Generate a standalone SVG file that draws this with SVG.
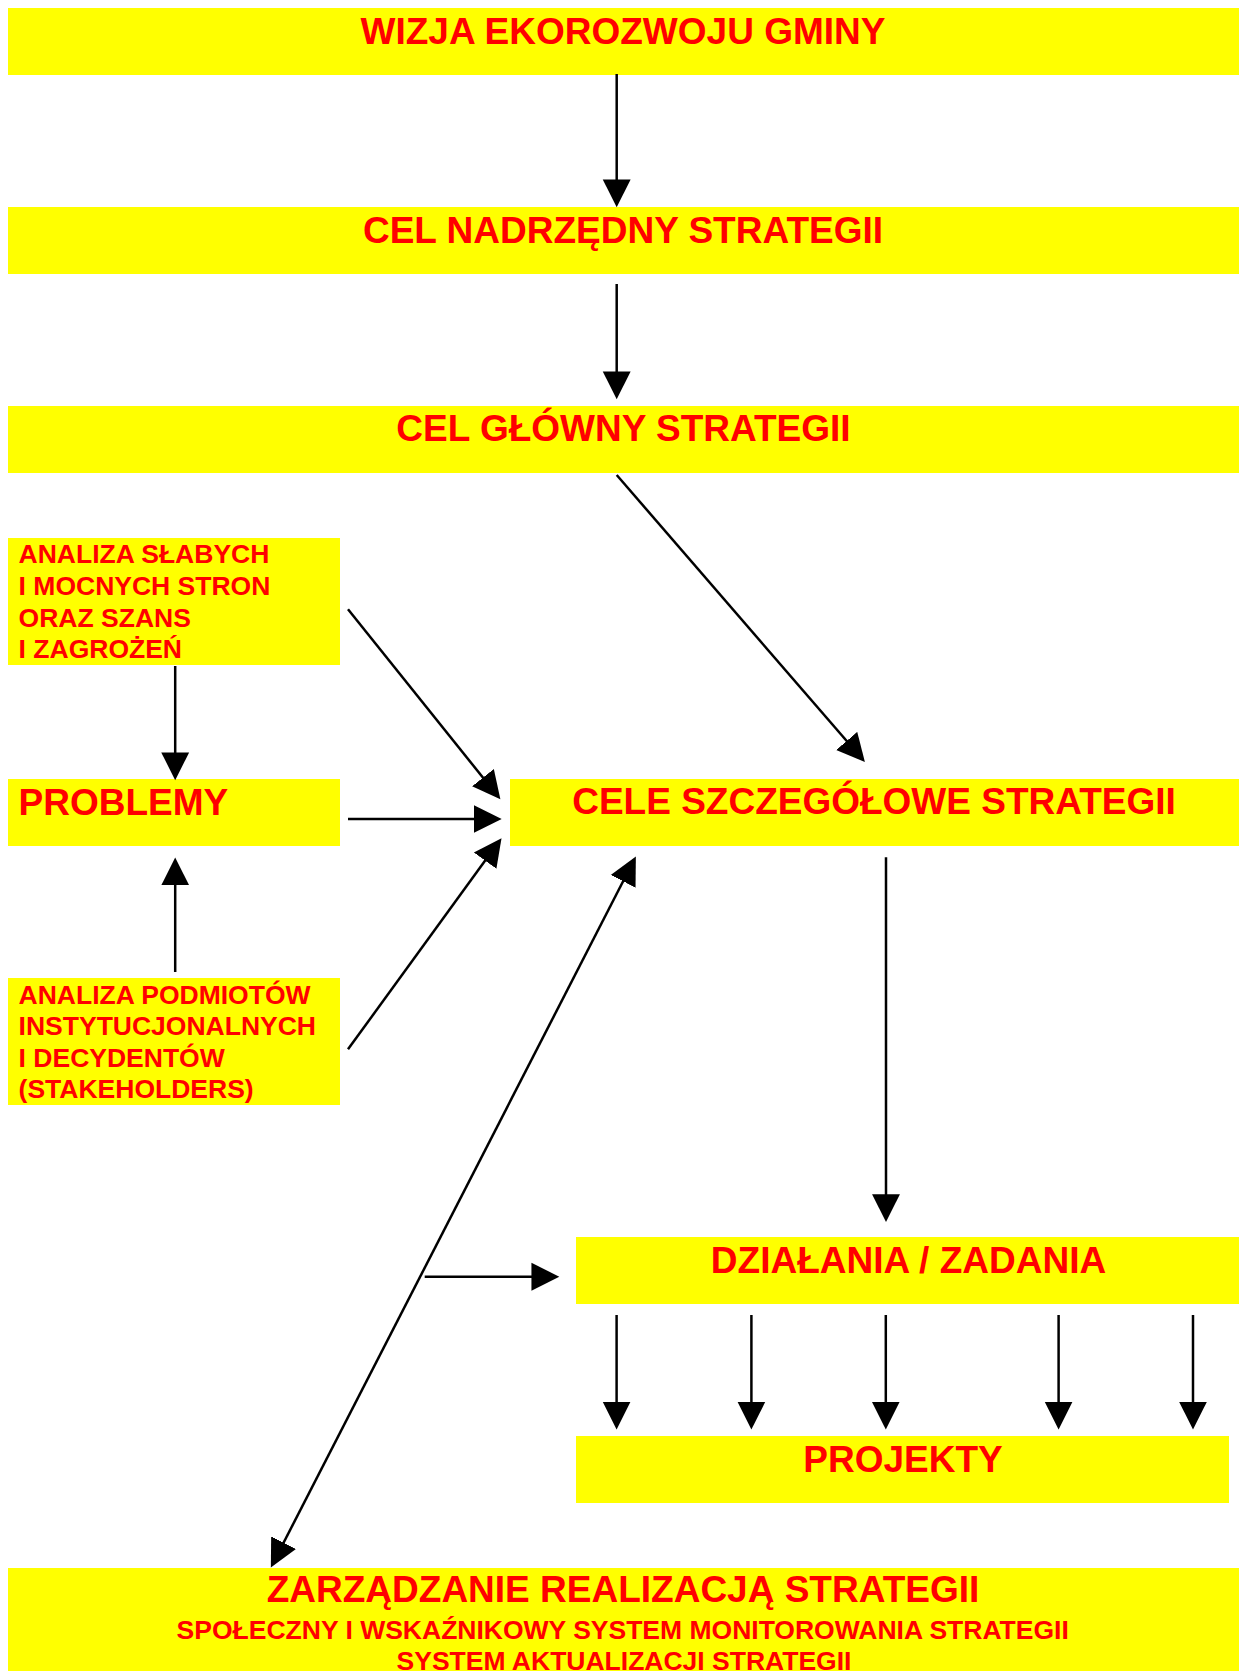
<svg xmlns="http://www.w3.org/2000/svg" width="1239" height="1671" viewBox="0 0 1239 1671">
<style>
.box{fill:#FFFF00;stroke:none}
.t{font-family:"Liberation Sans",Arial,sans-serif;font-weight:bold;fill:#FF0000}
.big{font-size:37px}
.sm{font-size:26.5px}
.c{text-anchor:middle}
.ln{stroke:#000;stroke-width:2.5;fill:none}
.a{marker-end:url(#ah)}
.ab{marker-start:url(#ahs);marker-end:url(#ah)}
</style>
<defs>
<marker id="ah" markerUnits="userSpaceOnUse" markerWidth="30" markerHeight="30" viewBox="0 -14 28 28" refX="22" refY="0" orient="auto">
<path d="M0,-13 L26,0 L0,13 z" fill="#000"/>
</marker>
<marker id="ahs" markerUnits="userSpaceOnUse" markerWidth="30" markerHeight="30" viewBox="0 -14 28 28" refX="22" refY="0" orient="auto-start-reverse">
<path d="M0,-13 L26,0 L0,13 z" fill="#000"/>
</marker>
</defs>
<rect width="1239" height="1671" fill="#fff"/>
<g id="wizja"><rect class="box" x="8" y="8" width="1231" height="67"/><text class="t big c" x="623" y="44">WIZJA EKOROZWOJU GMINY</text></g>
<g id="cel-nadrzedny"><rect class="box" x="8" y="207" width="1231" height="67"/><text class="t big c" x="623" y="243">CEL NADRZĘDNY STRATEGII</text></g>
<g id="cel-glowny"><rect class="box" x="8" y="406" width="1231" height="67"/><text class="t big c" x="623.5" y="441">CEL GŁÓWNY STRATEGII</text></g>
<g id="swot"><rect class="box" x="8" y="538" width="332" height="127"/>
<text class="t sm" x="18.6" y="563.3">ANALIZA SŁABYCH</text>
<text class="t sm" x="18.6" y="595">I MOCNYCH STRON</text>
<text class="t sm" x="18.6" y="626.7">ORAZ SZANS</text>
<text class="t sm" x="18.6" y="658.3">I ZAGROŻEŃ</text></g>
<g id="problemy"><rect class="box" x="8" y="779" width="332" height="67"/><text class="t big" x="18.6" y="815">PROBLEMY</text></g>
<g id="stakeholders"><rect class="box" x="8" y="978" width="332" height="127"/>
<text class="t sm" x="18.6" y="1004">ANALIZA PODMIOTÓW</text>
<text class="t sm" x="18.6" y="1035">INSTYTUCJONALNYCH</text>
<text class="t sm" x="18.6" y="1066.7">I DECYDENTÓW</text>
<text class="t sm" x="18.6" y="1098.3">(STAKEHOLDERS)</text></g>
<g id="cele-szczegolowe"><rect class="box" x="510" y="779" width="729" height="67"/><text class="t big c" x="874" y="814">CELE SZCZEGÓŁOWE STRATEGII</text></g>
<g id="dzialania"><rect class="box" x="576" y="1237" width="663" height="67"/><text class="t big c" x="908.5" y="1272.7">DZIAŁANIA / ZADANIA</text></g>
<g id="projekty"><rect class="box" x="576" y="1436" width="653" height="67"/><text class="t big c" x="903" y="1471.7">PROJEKTY</text></g>
<g id="zarzadzanie"><rect class="box" x="8" y="1568" width="1231" height="103"/>
<text class="t big c" x="623" y="1601.7">ZARZĄDZANIE REALIZACJĄ STRATEGII</text>
<text class="t sm c" x="622.7" y="1639.3">SPOŁECZNY I WSKAŹNIKOWY SYSTEM MONITOROWANIA STRATEGII</text>
<text class="t sm c" x="624" y="1670">SYSTEM AKTUALIZACJI STRATEGII</text></g>
<g id="connectors">
<line class="ln a" x1="616.7" y1="74" x2="616.7" y2="203"/>
<line class="ln a" x1="616.7" y1="284" x2="616.7" y2="395"/>
<line class="ln a" x1="616.7" y1="475" x2="862.1" y2="758.8"/>
<line class="ln a" x1="175.2" y1="666" x2="175.2" y2="776"/>
<line class="ln a" x1="348" y1="609.3" x2="497.7" y2="796"/>
<line class="ln a" x1="348" y1="819" x2="497.4" y2="819"/>
<line class="ln a" x1="348" y1="1049.3" x2="499" y2="841.6"/>
<line class="ln a" x1="175.2" y1="972" x2="175.2" y2="861.7"/>
<line class="ln ab" x1="633.9" y1="860.3" x2="272.8" y2="1563.7"/>
<line class="ln a" x1="886" y1="857.3" x2="886" y2="1217.7"/>
<line class="ln a" x1="424.7" y1="1276.7" x2="555" y2="1276.7"/>
<line class="ln a" x1="616.6" y1="1315" x2="616.6" y2="1425.3"/>
<line class="ln a" x1="751.4" y1="1315" x2="751.4" y2="1425.3"/>
<line class="ln a" x1="885.8" y1="1315" x2="885.8" y2="1425.3"/>
<line class="ln a" x1="1058.6" y1="1315" x2="1058.6" y2="1425.3"/>
<line class="ln a" x1="1193" y1="1315" x2="1193" y2="1425.3"/>
</g>
</svg>
